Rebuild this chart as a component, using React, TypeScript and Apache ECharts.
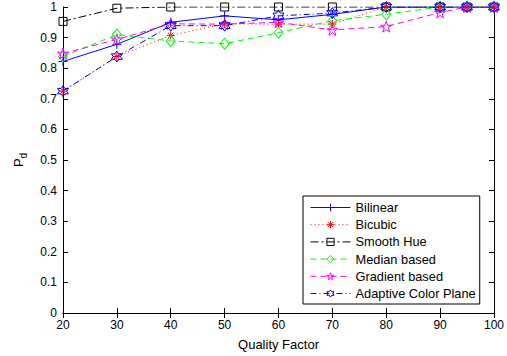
import React, { useEffect, useRef } from "react";
import * as echarts from "echarts";

const qualityFactors = [20, 30, 40, 50, 60, 70, 80, 90, 95, 100];
const bilinear = [0.822, 0.878, 0.95, 0.971, 0.958, 0.976, 1, 1, 1, 1];
const bicubic = [0.725, 0.838, 0.907, 0.945, 0.944, 0.944, 1, 1, 1, 1];
const smoothHue = [0.953, 0.996, 1, 1, 1, 1, 1, 1, 1, 1];
const medianBased = [0.838, 0.91, 0.889, 0.88, 0.916, 0.955, 0.976, 1, 1, 1];
const gradientBased = [0.848, 0.894, 0.945, 0.944, 0.95, 0.925, 0.936, 0.982, 1, 1];
const adaptiveColorPlane = [0.725, 0.838, 0.939, 0.939, 0.971, 0.98, 1, 1, 1, 1];
const seriesNames = ["Bilinear", "Bicubic", "Smooth Hue", "Median based", "Gradient based", "Adaptive Color Plane"];

const PLUS = "path://M0,5L10,5M5,0L5,10";
const ASTER = "path://M5,0L5,10M0,5L10,5M1.5,1.5L8.5,8.5M8.5,1.5L1.5,8.5";
const SQUARE = "path://M0,0L10,0L10,10L0,10Z";
const DIAMOND = "path://M5,0L10,5L5,10L0,5Z";
const PENTA = "path://M5,0L6.123,3.455L9.755,3.455L6.816,5.59L7.939,9.045L5,6.91L2.061,9.045L3.184,5.59L0.245,3.455L3.877,3.455Z";
const HEXA = "path://M5,0L6.443,2.5L9.33,2.5L7.887,5L9.33,7.5L6.443,7.5L5,10L3.557,7.5L0.67,7.5L2.113,5L0.67,2.5L3.557,2.5Z";

const FONT = "'Liberation Sans', Arial, sans-serif";

function mk(name: string, vals: number[], color: string, dash: any, symbol: string, size: any) {
  return {
    name,
    type: "line",
    data: qualityFactors.map((x, i) => [x, vals[i]]),
    symbol,
    symbolSize: size,
    showSymbol: true,
    lineStyle: { color, width: 1, type: dash },
    itemStyle: { color: "rgba(0,0,0,0)", borderColor: color, borderWidth: 1 },
    emphasis: { disabled: true },
  };
}

export default function App() {
  const ref = useRef<HTMLDivElement>(null);
  useEffect(() => {
    if (!ref.current) return;
    const chart = echarts.init(ref.current, null, { renderer: "svg" });
    const axisCommon = {
      axisLine: { show: true, lineStyle: { color: "#000", width: 1 } },
      axisTick: { show: true, inside: true, length: 5, lineStyle: { color: "#000" } },
      splitLine: { show: false },
    };
    chart.setOption({
      animation: false,
      backgroundColor: "#fff",
      grid: { left: 63, right: 11, top: 7, bottom: 37 },
      legend: {
        orient: "vertical",
        left: 303,
        top: 196,
        data: seriesNames,
        padding: [5, 4, 4, 7],
        itemWidth: 40,
        itemHeight: 9,
        itemGap: 4.2,
        borderColor: "#000",
        borderWidth: 1,
        borderRadius: 0,
        backgroundColor: "#fff",
        lineStyle: { width: 1 },
        itemStyle: { borderWidth: 1 },
        textStyle: { fontFamily: FONT, fontSize: 12.8, color: "#000", lineHeight: 12 },
        selectedMode: false,
      },
      xAxis: [
        {
          type: "value",
          min: 20,
          max: 100,
          interval: 10,
          name: "Quality Factor",
          nameLocation: "middle",
          nameGap: 25,
          nameTextStyle: { fontFamily: FONT, fontSize: 13, color: "#000" },
          axisLabel: { fontFamily: FONT, fontSize: 12, color: "#000", margin: 6 },
          ...axisCommon,
        },
        {
          type: "value",
          position: "top",
          min: 20,
          max: 100,
          interval: 10,
          axisLabel: { show: false },
          ...axisCommon,
        },
      ],
      yAxis: [
        {
          type: "value",
          min: 0,
          max: 1,
          interval: 0.1,
          name: "{p|P}{d|d}",
          nameLocation: "middle",
          nameGap: 33,
          nameRotate: 90,
          nameTextStyle: {
            fontFamily: FONT,
            color: "#000",
            rich: {
              p: { fontFamily: FONT, fontSize: 13, color: "#000", padding: [0, 0, 5, 0] },
              d: { fontFamily: FONT, fontSize: 10, color: "#000", padding: [5, 0, 0, 0] },
            },
          },
          axisLabel: { fontFamily: FONT, fontSize: 12, color: "#000", margin: 6 },
          ...axisCommon,
        },
        {
          type: "value",
          position: "right",
          min: 0,
          max: 1,
          interval: 0.1,
          axisLabel: { show: false },
          ...axisCommon,
        },
      ],
      series: [
        mk("Bilinear", bilinear, "#0000ff", "solid", PLUS, 9),
        mk("Bicubic", bicubic, "#ff0000", [1, 3], ASTER, 8),
        mk("Smooth Hue", smoothHue, "#000000", [8, 3, 2, 3], SQUARE, 8),
        mk("Median based", medianBased, "#00ff00", [6, 4], DIAMOND, [9, 11]),
        mk("Gradient based", gradientBased, "#ff00ff", [6, 4], PENTA, 11),
        mk("Adaptive Color Plane", adaptiveColorPlane, "#0000ff", [6, 3, 1, 3], HEXA, 11),
      ],
    });
    return () => chart.dispose();
  }, []);
  return <div ref={ref} style={{ width: 507, height: 356, position: "absolute", left: 0, top: 0 }} />;
}
